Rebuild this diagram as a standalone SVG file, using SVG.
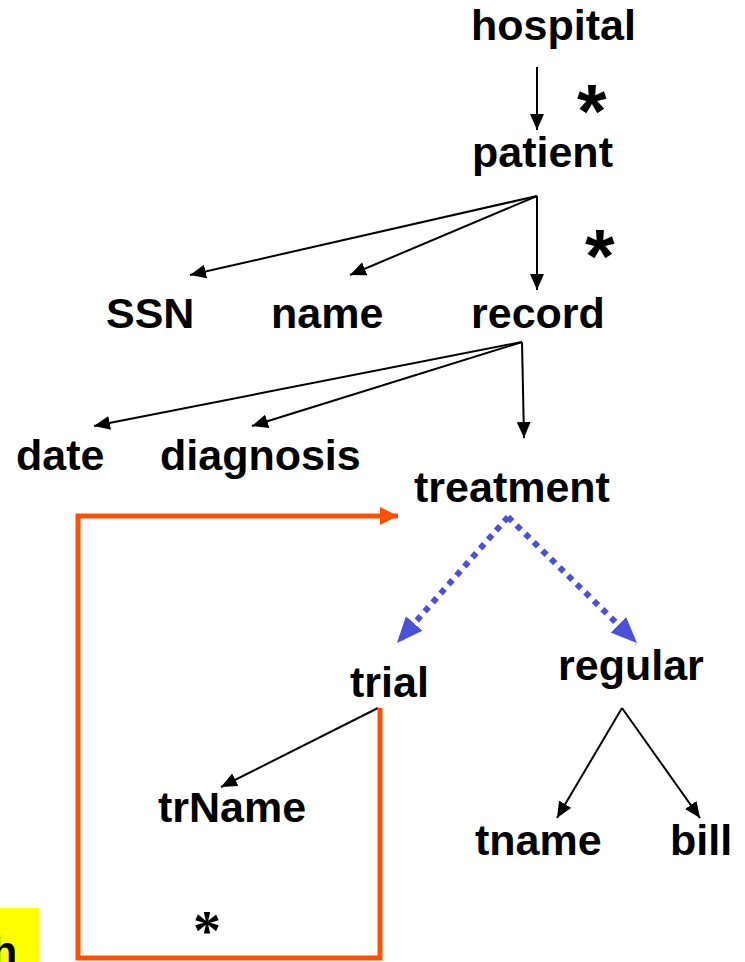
<svg xmlns="http://www.w3.org/2000/svg" width="745" height="962" viewBox="0 0 745 962">
<style>
.lbl{font-family:"Liberation Sans",Arial,sans-serif;font-weight:bold;font-size:43px;fill:#000}
.ast{font-family:"Liberation Sans",Arial,sans-serif;font-weight:bold;font-size:76px;fill:#000}
.ast2{font-family:"Liberation Serif","Times New Roman",serif;font-weight:bold;font-size:56px;fill:#000}
.blk{stroke:#000;stroke-width:2;fill:none}
.blue{stroke:#4A50DA;stroke-width:6;stroke-dasharray:6 6;fill:none}
.org{stroke:#FF5000;stroke-width:5;fill:none}
</style>
<defs>
<marker id="ab" markerUnits="userSpaceOnUse" markerWidth="16" markerHeight="14" refX="16" refY="7" orient="auto"><path d="M0,0 L16,7 L0,14 Z" fill="#000"/></marker>
<marker id="abl" markerUnits="userSpaceOnUse" markerWidth="26" markerHeight="22" refX="26" refY="11" orient="auto"><path d="M0,0 L26,11 L0,22 Z" fill="#4A50DA"/></marker>
<marker id="aor" markerUnits="userSpaceOnUse" markerWidth="18" markerHeight="18" refX="18" refY="9" orient="auto"><path d="M0,0 L18,9 L0,18 Z" fill="#FF5000"/></marker>
</defs>
<g id="connectors">
<line class="blk" x1="537" y1="67" x2="537" y2="130" marker-end="url(#ab)"/>
<line class="blk" x1="537" y1="196" x2="190" y2="275" marker-end="url(#ab)"/>
<line class="blk" x1="537" y1="196" x2="350" y2="275" marker-end="url(#ab)"/>
<line class="blk" x1="537" y1="196" x2="537" y2="290" marker-end="url(#ab)"/>
<line class="blk" x1="522" y1="342" x2="94" y2="426" marker-end="url(#ab)"/>
<line class="blk" x1="522" y1="342" x2="252" y2="426" marker-end="url(#ab)"/>
<line class="blk" x1="522" y1="342" x2="524" y2="438" marker-end="url(#ab)"/>
<line class="blue" x1="508" y1="517" x2="397" y2="643" marker-end="url(#abl)"/>
<line class="blue" x1="508" y1="517" x2="637" y2="643" marker-end="url(#abl)"/>
<line class="blk" x1="378" y1="708" x2="221" y2="787" marker-end="url(#ab)"/>
<line class="blk" x1="622" y1="708" x2="557" y2="818" marker-end="url(#ab)"/>
<line class="blk" x1="622" y1="708" x2="700" y2="818" marker-end="url(#ab)"/>
<path class="org" d="M380,708 L380,958 L78,958 L78,516 L398,516" marker-end="url(#aor)"/>
</g>
<g id="hospital"><text class="lbl" x="471" y="40">hospital</text></g>
<g id="patient"><text class="lbl" x="472" y="167">patient</text></g>
<g id="SSN"><text class="lbl" x="106" y="328">SSN</text></g>
<g id="name"><text class="lbl" x="271" y="328">name</text></g>
<g id="record"><text class="lbl" x="471" y="328">record</text></g>
<g id="date"><text class="lbl" x="16" y="470">date</text></g>
<g id="diagnosis"><text class="lbl" x="160" y="470">diagnosis</text></g>
<g id="treatment"><text class="lbl" x="414" y="502">treatment</text></g>
<g id="trial"><text class="lbl" x="350" y="697">trial</text></g>
<g id="regular"><text class="lbl" x="558" y="680">regular</text></g>
<g id="trName"><text class="lbl" x="158" y="822">trName</text></g>
<g id="tname"><text class="lbl" x="475" y="855">tname</text></g>
<g id="bill"><text class="lbl" x="670" y="855">bill</text></g>
<g id="stars">
<text class="ast" x="577" y="137">*</text>
<text class="ast" x="585" y="282">*</text>
<text class="ast2" x="193" y="950">*</text>
</g>
<g id="note">
<rect x="0" y="908" width="39" height="54" fill="#FFFF00"/>
<text class="lbl" x="-9" y="966">h</text>
</g>
</svg>
